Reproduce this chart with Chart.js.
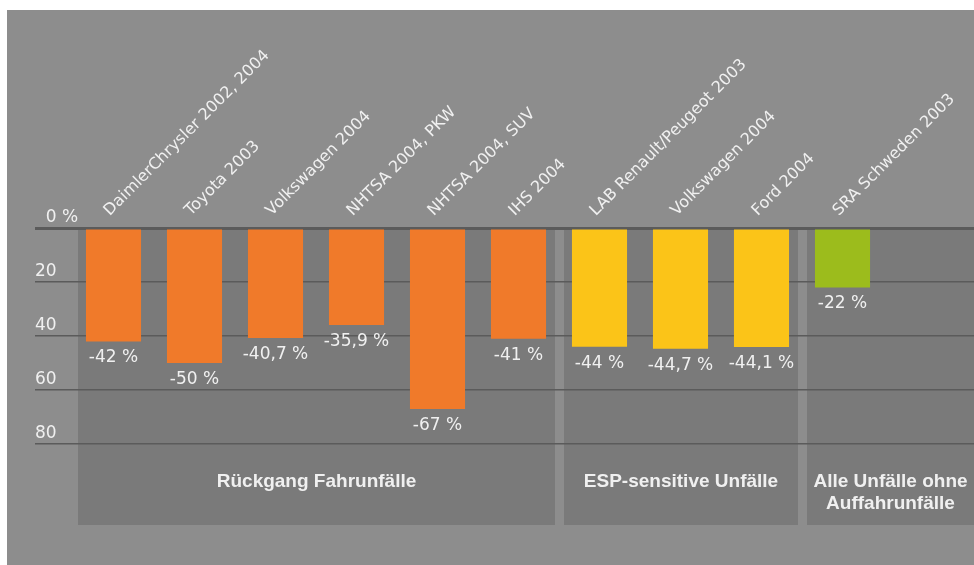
<!DOCTYPE html>
<html>
<head>
<meta charset="utf-8">
<script src="https://cdn.jsdelivr.net/npm/chart.js@4.4.0/dist/chart.umd.min.js"></script>
<style>
  html, body { margin: 0; padding: 0; background: #fff; }
  #wrap { position: absolute; left: 7px; top: 10px; width: 967px; height: 555px; overflow: hidden; background: #8d8d8d; }
  canvas { display: block; }
</style>
</head>
<body>
<div id="wrap"><canvas id="esp-chart" width="1038" height="555"></canvas></div>
<script>
// studies (the picture is cut off on the right, so two empty slots follow)
const studies = ['DaimlerChrysler 2002, 2004', 'Toyota 2003', 'Volkswagen 2004', 'NHTSA 2004, PKW',
    'NHTSA 2004, SUV', 'IHS 2004', 'LAB Renault/Peugeot 2003', 'Volkswagen 2004', 'Ford 2004',
    'SRA Schweden 2003', '', ''];
const reduction = [-42, -50, -40.7, -35.9, -67, -41, -44, -44.7, -44.1, -22, null, null];
const yTicks = [0, -20, -40, -60, -80];
const groupNames = [['Rückgang Fahrunfälle'], ['ESP-sensitive Unfälle'], ['Alle Unfälle ohne', 'Auffahrunfälle']];
const groupFirst = [0, 6, 9];
const groupLast = [5, 8, 11];

const groupColors = ['#f07a2a', '#fbc418', '#9cbc1c'];
const textColor = '#f0f0f0';
const labelFont = '"DejaVu Sans", sans-serif';

function groupOf(i) {
    return groupFirst.findIndex((f, g) => i >= f && i <= groupLast[g]);
}

// darker panels behind each group, with the group name below the grid
const panelPlugin = {
    id: 'panels',
    beforeDraw(chart) {
        const { ctx, chartArea, scales: { x, y } } = chart;
        const step = x.getPixelForValue(1) - x.getPixelForValue(0);
        const visibleRight = chart.canvas.parentNode.clientWidth;
        ctx.save();
        groupNames.forEach((lines, g) => {
            const left = x.getPixelForValue(groupFirst[g]) - step / 2 + 5;
            const right = x.getPixelForValue(groupLast[g]) + step / 2 - 4;
            ctx.fillStyle = '#7a7a7a';
            ctx.fillRect(left, chartArea.top, right - left, chartArea.bottom - chartArea.top);
            const cx = (left + Math.min(right, visibleRight)) / 2;
            ctx.fillStyle = textColor;
            ctx.font = 'bold 19px "Liberation Sans", Arial, sans-serif';
            ctx.textAlign = 'center';
            ctx.textBaseline = 'middle';
            lines.forEach((t, k) => ctx.fillText(t, cx, y.getPixelForValue(-94) + k * 22));
        });
        ctx.restore();
    }
};

// "-42 %" etc under each bar
const valuePlugin = {
    id: 'values',
    afterDatasetsDraw(chart) {
        const { ctx } = chart;
        const meta = chart.getDatasetMeta(0);
        ctx.save();
        ctx.font = '17px ' + labelFont;
        ctx.fillStyle = textColor;
        ctx.textAlign = 'center';
        ctx.textBaseline = 'alphabetic';
        meta.data.forEach((bar, i) => {
            if (reduction[i] == null) return;
            ctx.fillText(String(reduction[i]).replace('.', ',') + ' %', bar.x, bar.y + 21);
        });
        ctx.restore();
    }
};

new Chart(document.getElementById('esp-chart'), {
    type: 'bar',
    data: {
        labels: studies,
        datasets: [{
            data: reduction,
            backgroundColor: (c) => groupColors[groupOf(c.dataIndex)],
            borderWidth: 0,
            barPercentage: 0.68,
            categoryPercentage: 1
        }]
    },
    options: {
        responsive: false,
        animation: false,
        layout: { padding: { left: 28, top: 0, right: 0, bottom: 40 } },
        plugins: {
            legend: { display: false },
            tooltip: { enabled: false }
        },
        scales: {
            x: {
                position: 'top',
                grid: { display: false, drawTicks: false },
                border: { display: false },
                ticks: {
                    autoSkip: false,
                    minRotation: 45,
                    maxRotation: 45,
                    padding: 8,
                    labelOffset: 7,
                    color: textColor,
                    font: { family: labelFont, size: 16 }
                },
                afterFit: (s) => { s.height = 218; }
            },
            y: {
                min: -110,
                max: 0,
                afterBuildTicks: (s) => { s.ticks = yTicks.map(v => ({ value: v })); },
                grid: {
                    color: '#5b5b5b',
                    lineWidth: (c) => (c.tick && c.tick.value === 0 ? 3 : 1.5),
                    tickLength: 38
                },
                border: { display: false },
                ticks: {
                    // mirrored so "0 %" may run past the axis box
                    mirror: true,
                    crossAlign: 'near',
                    padding: -38,
                    labelOffset: -10,
                    color: textColor,
                    font: { family: labelFont, size: 17 },
                    callback: (v) => (v === 0 ? '\u20070 %' : String(-v))
                },
                afterFit: (s) => { s.width = 38; }
            }
        }
    },
    plugins: [panelPlugin, valuePlugin]
});
</script>
</body>
</html>
